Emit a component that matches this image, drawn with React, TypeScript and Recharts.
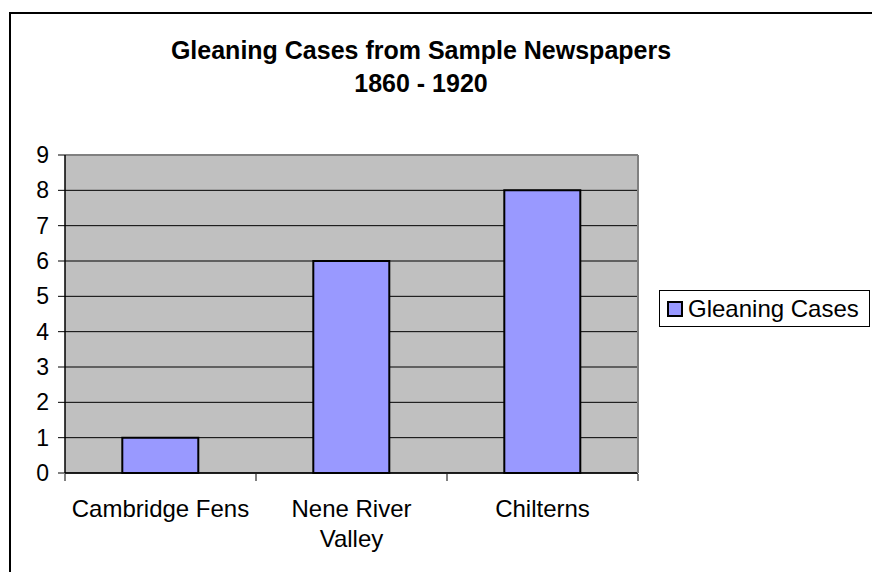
import { BarChart, Bar, XAxis, YAxis, CartesianGrid, Legend } from 'recharts'

const regions = ['Cambridge Fens', 'Nene River Valley', 'Chilterns']
const regionLines = [['Cambridge Fens'], ['Nene River', 'Valley'], ['Chilterns']]
const gleaningCases = [1, 6, 8]
const caseTicks = [0, 1, 2, 3, 4, 5, 6, 7, 8, 9]
const bandEdges = [0, 1, 2, 3]
const seriesName = 'Gleaning Cases'
const titleLines = ['Gleaning Cases from Sample Newspapers', '1860 - 1920']

const data = regions.map((region, i) => ({ region, slot: i, cases: gleaningCases[i] }))

const FONT = '"Liberation Sans", Arial, Helvetica, sans-serif'

function RegionTick({ x, y, payload }: any) {
  const lines = regionLines[regions.indexOf(payload.value)] ?? [payload.value]
  return (
    <text x={x} y={y} textAnchor="middle" fill="#000" fontSize={24} fontFamily={FONT}>
      {lines.map((line, i) => (
        <tspan key={line} x={x} dy={i === 0 ? 17 : 30}>{line}</tspan>
      ))}
    </text>
  )
}

const NoLabel = () => <g />

function LegendBox({ payload }: any) {
  return (
    <div style={{
      display: 'flex', alignItems: 'center', height: 37, boxSizing: 'border-box',
      border: '1px solid #000', paddingLeft: 7, background: '#fff',
      fontFamily: FONT, fontSize: 24, color: '#000',
    }}>
      {(payload ?? []).map((p: any) => (
        <span key={p.value} style={{ display: 'flex', alignItems: 'center' }}>
          <span style={{
            display: 'inline-block', width: 12, height: 12, background: '#9999ff',
            border: '2px solid #000', marginRight: 5,
          }} />
          {p.value}
        </span>
      ))}
    </div>
  )
}

export default function App() {
  return (
    <div style={{
      position: 'absolute', left: 0, top: 0, width: 872, height: 572,
      overflow: 'hidden', background: '#fff',
    }}>
      <div style={{
        position: 'absolute', left: 9, top: 12, width: 900, height: 600,
        border: '2px solid #000',
      }} />
      <div style={{
        position: 'absolute', left: 0, top: 34, width: 842, textAlign: 'center',
        fontFamily: FONT, fontWeight: 'bold', fontSize: 25, lineHeight: '33px', color: '#000',
      }}>
        {titleLines.map(t => <div key={t}>{t}</div>)}
      </div>
      <div style={{ position: 'absolute', left: 0, top: 0 }}>
        <BarChart
          width={872}
          height={572}
          data={data}
          margin={{ top: 154, right: 233, bottom: 97, left: 0 }}
          barCategoryGap="30%"
        >
          <CartesianGrid
            xAxisId="cat"
            yAxisId="left"
            vertical={false}
            stroke="#000"
            fill="#c0c0c0"
            fillOpacity={1}
          />
          <XAxis
            xAxisId="cat"
            dataKey="region"
            height={1}
            interval={0}
            tickSize={0}
            tickMargin={27}
            tickLine={false}
            axisLine={{ stroke: '#000', strokeWidth: 1.5 }}
            tick={<RegionTick />}
          />
          <XAxis
            xAxisId="edges"
            type="number"
            dataKey="slot"
            domain={[0, 3]}
            ticks={bandEdges}
            interval={0}
            allowDataOverflow
            height={1}
            tick={<NoLabel />}
            tickSize={7}
            tickLine={{ stroke: '#000' }}
            axisLine={false}
          />
          <XAxis
            xAxisId="top"
            orientation="top"
            dataKey="region"
            height={1}
            tick={false}
            tickLine={false}
            axisLine={{ stroke: '#808080', strokeWidth: 2 }}
          />
          <YAxis
            yAxisId="left"
            domain={[0, 9]}
            ticks={caseTicks}
            interval={0}
            width={65}
            tickSize={7}
            tickMargin={9}
            tickLine={{ stroke: '#000' }}
            axisLine={{ stroke: '#000', strokeWidth: 1.5 }}
            tick={{ fill: '#000', fontSize: 23, fontFamily: FONT }}
          />
          <YAxis
            yAxisId="right"
            orientation="right"
            domain={[0, 9]}
            width={1}
            tick={false}
            tickLine={false}
            axisLine={{ stroke: '#808080', strokeWidth: 2 }}
          />
          <Legend
            align="center"
            verticalAlign="middle"
            content={<LegendBox />}
            wrapperStyle={{ left: 659, top: 290, width: 211 }}
          />
          <Bar
            xAxisId="cat"
            yAxisId="left"
            dataKey="cases"
            name={seriesName}
            fill="#9999ff"
            stroke="#000"
            strokeWidth={2}
            isAnimationActive={false}
          />
        </BarChart>
      </div>
    </div>
  )
}
